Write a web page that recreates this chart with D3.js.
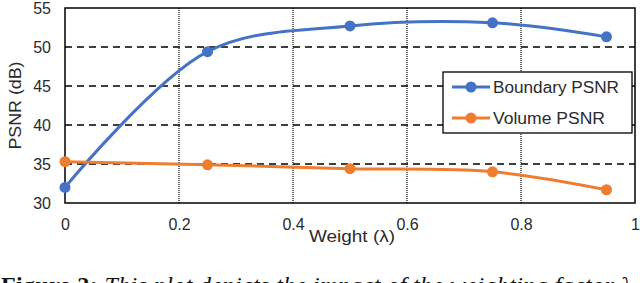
<!DOCTYPE html>
<html>
<head>
<meta charset="utf-8">
<script src="https://cdn.jsdelivr.net/npm/d3@7"></script>
<style>
  body { margin: 0; background: #fff; }
  svg { display: block; font-family: "Liberation Sans", Arial, sans-serif; }
</style>
</head>
<body>
<div class="chart"></div>
<script>
var weights = [0, 0.25, 0.5, 0.75, 0.95];
var boundaryPsnr = [32.0, 49.4, 52.7, 53.1, 51.3];
var volumePsnr = [35.3, 34.9, 34.4, 34.0, 31.7];
var xTicks = [0, 0.2, 0.4, 0.6, 0.8, 1];
var yTicks = [30, 35, 40, 45, 50, 55];
var seriesNames = ["Boundary PSNR", "Volume PSNR"];
var seriesColors = ["#4472c4", "#ed7d31"];

var margin = {top: 8, right: 5, bottom: 80, left: 65};

var svg = d3.select(".chart").append("svg")
    .attr("width", 640)
    .attr("height", 283);

var g = svg.append("g")
    .attr("transform", "translate(" + margin.left + "," + margin.top + ")");

var x = d3.scaleLinear().domain([0, 1]).range([0, 570]);
var y = d3.scaleLinear().domain([30, 55]).range([195, 0]);

// grid
g.selectAll(".hgrid")
    .data(yTicks.slice(1, -1))
  .enter().append("line")
    .attr("x1", 0).attr("x2", x(1))
    .attr("y1", function(d){ return y(d); })
    .attr("y2", function(d){ return y(d); })
    .attr("stroke", "#000")
    .attr("stroke-width", 1.3)
    .attr("stroke-dasharray", "7,5");

g.selectAll(".vgrid")
    .data(xTicks.slice(1, -1))
  .enter().append("line")
    .attr("x1", function(d){ return x(d); })
    .attr("x2", function(d){ return x(d); })
    .attr("y1", 0).attr("y2", y(30))
    .attr("stroke", "#000")
    .attr("stroke-width", 1.2)
    .attr("stroke-dasharray", "1,1");

// frame
g.append("rect")
    .attr("width", x(1)).attr("height", y(30))
    .attr("fill", "none")
    .attr("stroke", "#000")
    .attr("stroke-width", 1.5);

// axes (labels only)
var xAxis = d3.axisBottom(x).tickValues(xTicks).tickSize(0).tickPadding(16)
    .tickFormat(function(d){ return d3.format("")(d); });
var gx = g.append("g").attr("transform", "translate(0," + y(30) + ")").call(xAxis);
gx.select(".domain").remove();
gx.selectAll("text").attr("font-size", 16).attr("fill", "#2a2a2a").attr("font-family", "Liberation Sans, Arial, sans-serif");

var yAxis = d3.axisLeft(y).tickValues(yTicks).tickSize(0).tickPadding(14);
var gy = g.append("g").call(yAxis);
gy.select(".domain").remove();
gy.selectAll("text").attr("font-size", 16).attr("fill", "#2a2a2a").attr("font-family", "Liberation Sans, Arial, sans-serif");

// series
var series = [boundaryPsnr, volumePsnr];
var line = d3.line()
    .x(function(d, i){ return x(weights[i]); })
    .y(function(d){ return y(d); })
    .curve(d3.curveCatmullRom.alpha(0.5));

series.forEach(function(vals, k){
  g.append("path")
      .datum(vals)
      .attr("d", line)
      .attr("fill", "none")
      .attr("stroke", seriesColors[k])
      .attr("stroke-width", 3);
  g.selectAll(".pt" + k)
      .data(vals)
    .enter().append("circle")
      .attr("cx", function(d, i){ return x(weights[i]); })
      .attr("cy", function(d){ return y(d); })
      .attr("r", 5.5)
      .attr("fill", seriesColors[k]);
});

// legend
var lg = g.append("g").attr("transform", "translate(378,64)");
lg.append("rect")
    .attr("width", 189).attr("height", 61)
    .attr("fill", "#fff")
    .attr("stroke", "#000")
    .attr("stroke-width", 1.3);
var legendWidths = [126, 112];
seriesNames.forEach(function(name, k){
  var row = lg.append("g").attr("transform", "translate(0," + (15 + k * 31) + ")");
  row.append("line")
      .attr("x1", 9).attr("x2", 47)
      .attr("stroke", seriesColors[k]).attr("stroke-width", 3);
  row.append("circle").attr("cx", 28).attr("r", 5.5).attr("fill", seriesColors[k]);
  row.append("text")
      .attr("x", 50).attr("dy", "0.36em")
      .attr("font-size", 16).attr("fill", "#2a2a2a")
      .attr("textLength", legendWidths[k]).attr("lengthAdjust", "spacingAndGlyphs")
      .text(name);
});

// axis titles
svg.append("text")
    .attr("transform", "translate(21," + (margin.top + y(42.5)) + ") rotate(-90)")
    .attr("text-anchor", "middle")
    .attr("font-size", 16).attr("fill", "#2a2a2a")
    .attr("textLength", 88).attr("lengthAdjust", "spacingAndGlyphs")
    .text("PSNR (dB)");

svg.append("text")
    .attr("x", 352).attr("y", 242)
    .attr("text-anchor", "middle")
    .attr("font-size", 16).attr("fill", "#2a2a2a")
    .attr("textLength", 86).attr("lengthAdjust", "spacingAndGlyphs")
    .text("Weight (λ)");

// caption (cut off at the bottom, as in the source image)
var cap = svg.append("text")
    .attr("x", 1).attr("y", 293)
    .attr("font-family", "Liberation Serif, Times New Roman, serif")
    .attr("font-size", 24).attr("fill", "#111")
    .attr("textLength", 630).attr("lengthAdjust", "spacing");
cap.append("tspan").attr("font-weight", "bold").text("Figure 2:");
cap.append("tspan").attr("font-style", "italic").text(" This plot depicts the impact of the weighting factor λ");
</script>
</body>
</html>
